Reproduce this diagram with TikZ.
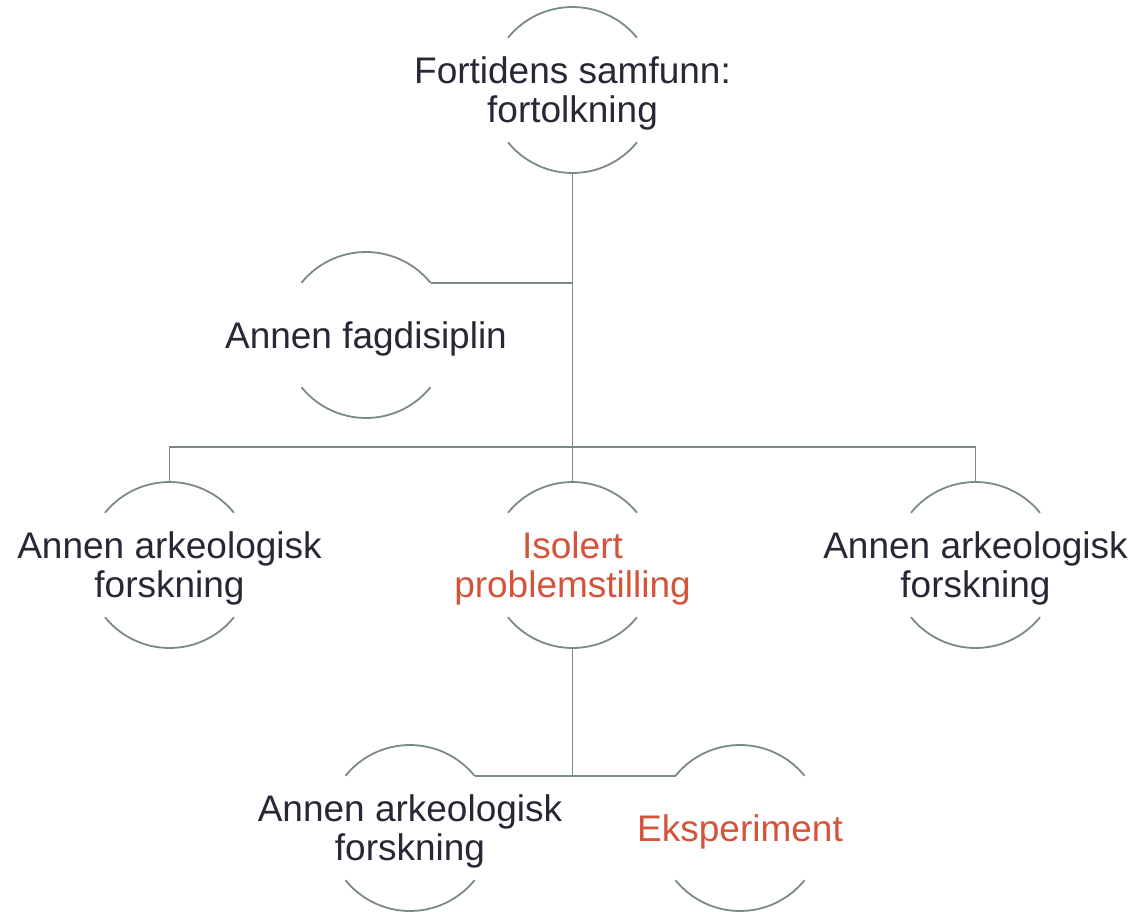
\documentclass[tikz,border=0pt]{standalone}
\usepackage{fontspec}
\setmainfont{Liberation Sans}
\definecolor{linecol}{HTML}{7A8A84}
\definecolor{textdark}{HTML}{272736}
\definecolor{accent}{HTML}{D5533B}
\begin{document}
\begin{tikzpicture}[x=1pt,y=1pt,
  ring/.style={circle,minimum size=166pt,inner sep=0pt,outer sep=0pt,draw=none},
  label/.style={align=center,inner sep=0pt,yshift=-3.5pt,text=textdark,font=\fontsize{37}{38.5}\selectfont},
  hot/.style={label,text=accent},
  conn/.style={draw=linecol,line width=1.8pt}]
\useasboundingbox (0,0) rectangle (1136,-911);
% rings
\node[ring] (T) at (572.5,-90) {};
\node[ring] (F) at (366,-335) {};
\node[ring] (L) at (169.5,-565) {};
\node[ring] (M) at (572.5,-565) {};
\node[ring] (R) at (975.5,-565) {};
\node[ring] (BL) at (410,-828) {};
\node[ring] (E) at (740,-828) {};
% arcs
\foreach \n in {T,F,L,M,R,BL,E}{
  \draw[conn] (\n.39) arc[start angle=39,end angle=141,radius=83];
  \draw[conn] (\n.219) arc[start angle=219,end angle=321,radius=83];
}
% texts
\node[label] (Tt) at (T) {Fortidens samfunn:\\fortolkning};
\node[label] (Ft) at (F) {Annen fagdisiplin};
\node[label] (Lt) at (L) {Annen arkeologisk\\forskning};
\node[hot] (Mt) at (M) {Isolert\\problemstilling};
\node[label] (Rt) at (R) {Annen arkeologisk\\forskning};
\node[label] (BLt) at (BL) {Annen arkeologisk\\forskning};
\node[hot] (Et) at (E) {Eksperiment};
% connectors
\coordinate (bar) at (169.5,-447);
\draw[conn] (T.south) -- (M.north);
\draw[conn] (F.39) -- (F.39 -| T.south);
\draw[conn] (L.north) -- (bar) -| (R.north);
\draw[conn] (M.south) -- (M.south |- BL.39);
\draw[conn] (BL.39) -- (E.141);
\end{tikzpicture}
\end{document}
